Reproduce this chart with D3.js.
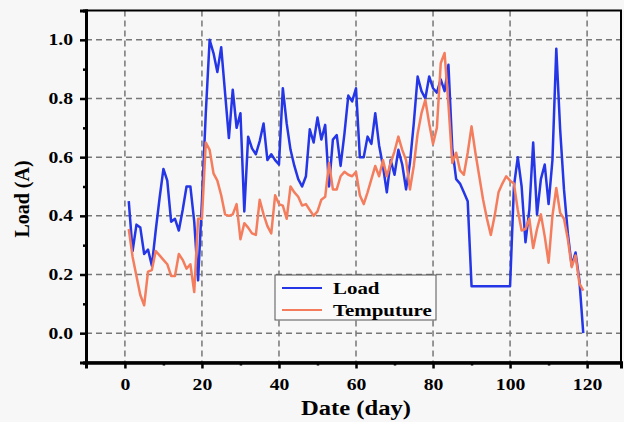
<!DOCTYPE html>
<html>
<head>
<meta charset="utf-8">
<script src="https://cdn.jsdelivr.net/npm/d3@7"></script>
<style>
  html, body { margin: 0; padding: 0; background: #f7f7f7; }
  svg { display: block; }
  .tick text { font-family: "Liberation Serif", serif; font-weight: bold; font-size: 16px; fill: #000; }
</style>
</head>
<body>
<div id="chart"></div>
<script>
// days 1..119
const days = d3.range(1, 120);

// Load (A), blue line
const loadValues = [
  0.45, 0.28, 0.37, 0.36, 0.27, 0.285, 0.23, 0.35, 0.46, 0.56,
  0.52, 0.38, 0.39, 0.35, 0.42, 0.50, 0.50, 0.38, 0.18, 0.45,
  0.75, 1.00, 0.955, 0.89, 0.975, 0.82, 0.665, 0.83, 0.70, 0.75,
  0.415, 0.67, 0.63, 0.61, 0.655, 0.715, 0.59, 0.61, 0.59, 0.575,
  0.835, 0.715, 0.625, 0.57, 0.525, 0.50, 0.535, 0.695, 0.65, 0.735,
  0.66, 0.71, 0.50, 0.66, 0.675, 0.57, 0.68, 0.81, 0.79, 0.835,
  0.60, 0.60, 0.67, 0.645, 0.75, 0.64, 0.57, 0.48, 0.59, 0.54,
  0.625, 0.575, 0.49, 0.58, 0.715, 0.875, 0.825, 0.80, 0.875, 0.835,
  0.82, 0.865, 0.825, 0.915, 0.63, 0.525, 0.51, 0.48, 0.45, 0.16,
  0.16, 0.16, 0.16, 0.16, 0.16, 0.16, 0.16, 0.16, 0.16, 0.16,
  0.50, 0.60, 0.50, 0.31, 0.42, 0.65, 0.405, 0.525, 0.575, 0.44,
  0.59, 0.97, 0.695, 0.49, 0.34, 0.23, 0.275, 0.18, 0.00
];

// Temputure, orange line
const tempValues = [
  0.355, 0.26, 0.195, 0.13, 0.095, 0.21, 0.215, 0.28, 0.265, 0.25,
  0.235, 0.195, 0.195, 0.27, 0.25, 0.22, 0.235, 0.14, 0.39, 0.39,
  0.65, 0.625, 0.545, 0.52, 0.47, 0.405, 0.40, 0.405, 0.44, 0.32,
  0.375, 0.36, 0.34, 0.335, 0.455, 0.405, 0.365, 0.34, 0.47, 0.44,
  0.435, 0.39, 0.50, 0.48, 0.465, 0.435, 0.44, 0.42, 0.40, 0.415,
  0.455, 0.465, 0.58, 0.49, 0.49, 0.535, 0.55, 0.54, 0.535, 0.55,
  0.47, 0.44, 0.48, 0.525, 0.57, 0.535, 0.59, 0.535, 0.58, 0.62,
  0.67, 0.625, 0.59, 0.49, 0.57, 0.68, 0.75, 0.795, 0.715, 0.645,
  0.70, 0.92, 0.955, 0.78, 0.58, 0.615, 0.555, 0.54, 0.615, 0.705,
  0.615, 0.535, 0.455, 0.39, 0.335, 0.40, 0.48, 0.51, 0.535, 0.52,
  0.51, 0.42, 0.35, 0.355, 0.39, 0.29, 0.355, 0.405, 0.33, 0.24,
  0.40, 0.495, 0.41, 0.39, 0.32, 0.225, 0.265, 0.17, 0.145
];

const xMajor = [0, 20, 40, 60, 80, 100, 120];
const xMinor = [10, 30, 50, 70, 90, 110];
const yMajor = [0.0, 0.2, 0.4, 0.6, 0.8, 1.0];
const yMinor = [-0.1, 0.1, 0.3, 0.5, 0.7, 0.9];
const seriesNames = ["Load", "Temputure"];
const seriesColors = ["#2436e6", "#f47d5e"];

const W = 624, H = 422;
const margin = { top: 10.5, right: 3, bottom: 59.5, left: 86 };
const width = W - margin.left - margin.right;
const height = H - margin.top - margin.bottom;
const stretch = 1.23; // the reference text is drawn wide

const svg = d3.select("#chart").append("svg")
  .attr("width", W).attr("height", H);

svg.append("rect").attr("width", W).attr("height", H).attr("fill", "#f7f7f7");

const g = svg.append("g").attr("transform", `translate(${margin.left},${margin.top})`);

const x = d3.scaleLinear().domain([-10.1, 128.8]).range([0, width]);
const y = d3.scaleLinear().domain([-0.1, 1.1]).range([height, 0]);

// grid
g.append("g").selectAll("line").data(yMajor).enter().append("line")
  .attr("x1", 0).attr("x2", width)
  .attr("y1", d => y(d)).attr("y2", d => y(d))
  .attr("stroke", "#777").attr("stroke-width", 1.5).attr("stroke-dasharray", "6,4");
g.append("g").selectAll("line").data(xMajor).enter().append("line")
  .attr("x1", d => x(d)).attr("x2", d => x(d))
  .attr("y1", 0).attr("y2", height)
  .attr("stroke", "#777").attr("stroke-width", 1.5).attr("stroke-dasharray", "6,4");

// lines
const line = (vals) => d3.line()
  .x((d, i) => x(days[i]))
  .y(d => y(d))(vals);

g.append("path").attr("d", line(loadValues))
  .attr("fill", "none").attr("stroke", seriesColors[0]).attr("stroke-width", 2.5)
  .attr("stroke-linejoin", "round");
g.append("path").attr("d", line(tempValues))
  .attr("fill", "none").attr("stroke", seriesColors[1]).attr("stroke-width", 2.5)
  .attr("stroke-linejoin", "round");

// frame
g.append("rect").attr("width", width).attr("height", height)
  .attr("fill", "none").attr("stroke", "#000").attr("stroke-width", 2);

// axes
const xAxis = g.append("g").attr("transform", `translate(0,${height})`)
  .call(d3.axisBottom(x).tickValues(xMajor).tickSize(6).tickPadding(10).tickFormat(d3.format("d")));
const xMinorAxis = g.append("g").attr("transform", `translate(0,${height})`)
  .call(d3.axisBottom(x).tickValues(xMinor).tickSize(3).tickFormat(""));
const yAxis = g.append("g")
  .call(d3.axisLeft(y).tickValues(yMajor).tickSize(6).tickFormat(d3.format(".1f")));
const yMinorAxis = g.append("g")
  .call(d3.axisLeft(y).tickValues(yMinor).tickSize(3).tickFormat(""));

xAxis.selectAll(".tick text").attr("transform", `scale(${stretch},1)`);
yAxis.selectAll(".tick text").attr("x", -13 / stretch).attr("transform", `scale(${stretch},1)`);

[xAxis, xMinorAxis, yAxis, yMinorAxis].forEach(a => {
  a.select(".domain").attr("stroke", "#000").attr("stroke-width", 3);
  a.selectAll(".tick line").attr("stroke", "#000").attr("stroke-width", 2.5);
});

// axis titles
svg.append("text")
  .attr("transform", `translate(${margin.left + x(60)},415) scale(${stretch},1)`)
  .attr("text-anchor", "middle")
  .style("font-family", "Liberation Serif, serif").style("font-weight", "bold").style("font-size", "20px")
  .text("Date (day)");
svg.append("text")
  .attr("transform", `translate(29,199) rotate(-90)`)
  .attr("text-anchor", "middle")
  .style("font-family", "Liberation Serif, serif").style("font-weight", "bold").style("font-size", "20px")
  .text("Load (A)");

// legend
const legend = svg.append("g").attr("transform", "translate(275,275)");
legend.append("rect").attr("width", 161).attr("height", 45)
  .attr("fill", "#fafafa").attr("stroke", "#555").attr("stroke-width", 1);
seriesNames.forEach((name, i) => {
  const ly = 13 + i * 22;
  legend.append("line").attr("x1", 7).attr("x2", 47).attr("y1", ly).attr("y2", ly)
    .attr("stroke", seriesColors[i]).attr("stroke-width", 2);
  legend.append("text")
    .attr("transform", `translate(58,${ly + 6}) scale(${stretch},1)`)
    .style("font-family", "Liberation Serif, serif").style("font-weight", "bold").style("font-size", "17px")
    .text(name);
});
</script>
</body>
</html>
